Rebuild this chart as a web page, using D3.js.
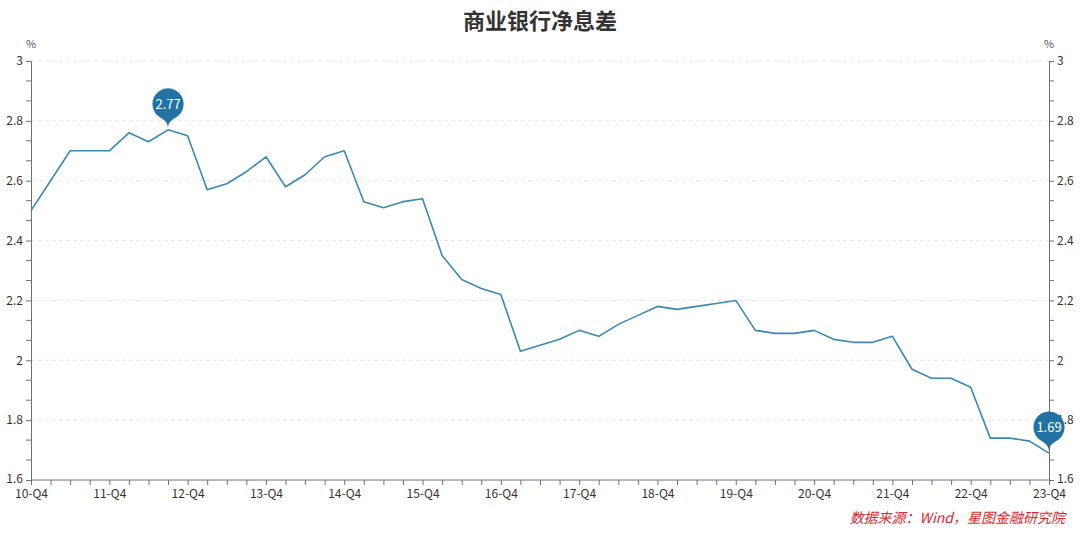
<!DOCTYPE html>
<html>
<head>
<meta charset="utf-8">
<script src="https://cdn.jsdelivr.net/npm/d3@7/dist/d3.min.js"></script>
<style>
  html, body { margin: 0; padding: 0; background: #fff; }
  svg { display: block; font-family: "Noto Sans CJK SC", "Noto Sans", sans-serif; }
</style>
</head>
<body>
<svg id="chart" width="1080" height="536"></svg>
<script>
const title = "商业银行净息差";
const source = "数据来源：Wind，星图金融研究院";
const unit = "%";
const categories = [
  "10-Q4",
  "11-Q1","11-Q2","11-Q3","11-Q4",
  "12-Q1","12-Q2","12-Q3","12-Q4",
  "13-Q1","13-Q2","13-Q3","13-Q4",
  "14-Q1","14-Q2","14-Q3","14-Q4",
  "15-Q1","15-Q2","15-Q3","15-Q4",
  "16-Q1","16-Q2","16-Q3","16-Q4",
  "17-Q1","17-Q2","17-Q3","17-Q4",
  "18-Q1","18-Q2","18-Q3","18-Q4",
  "19-Q1","19-Q2","19-Q3","19-Q4",
  "20-Q1","20-Q2","20-Q3","20-Q4",
  "21-Q1","21-Q2","21-Q3","21-Q4",
  "22-Q1","22-Q2","22-Q3","22-Q4",
  "23-Q1","23-Q2","23-Q3","23-Q4"
];
const nim = [
  2.50,
  2.60, 2.70, 2.70, 2.70,
  2.76, 2.73, 2.77, 2.75,
  2.57, 2.59, 2.63, 2.68,
  2.58, 2.62, 2.68, 2.70,
  2.53, 2.51, 2.53, 2.54,
  2.35, 2.27, 2.24, 2.22,
  2.03, 2.05, 2.07, 2.10,
  2.08, 2.12, 2.15, 2.18,
  2.17, 2.18, 2.19, 2.20,
  2.10, 2.09, 2.09, 2.10,
  2.07, 2.06, 2.06, 2.08,
  1.97, 1.94, 1.94, 1.91,
  1.74, 1.74, 1.73, 1.69
];
const yMajorTicks = [1.6, 1.8, 2.0, 2.2, 2.4, 2.6, 2.8, 3.0];
const yTickLabels = ["1.6", "1.8", "2", "2.2", "2.4", "2.6", "2.8", "3"];
const xTickLabels = ["10-Q4","11-Q4","12-Q4","13-Q4","14-Q4","15-Q4","16-Q4","17-Q4","18-Q4","19-Q4","20-Q4","21-Q4","22-Q4","23-Q4"];
const markLabels = ["2.77", "1.69"];

const svg = d3.select("#chart");
const L = 31, R = 1049, T = 61, B = 480;
const axisColor = "#6e7079";
const textColor = "#333";
const lineColor = "#3a88b4";
const pinColor = "#2273a3";

const x = d3.scalePoint().domain(categories).range([L, R]);
const y = d3.scaleLinear().domain([1.6, 3.0]).range([B, T]);

// minor ticks (3 per 0.2 interval)
const minorTicks = [];
for (let i = 0; i < yMajorTicks.length - 1; i++) {
  const a = yMajorTicks[i], b = yMajorTicks[i + 1];
  minorTicks.push(a + (b - a) / 3, a + 2 * (b - a) / 3);
}

// grid
svg.append("g").selectAll("line").data(yMajorTicks.filter(v => v > 1.6))
  .join("line")
  .attr("x1", L).attr("x2", R)
  .attr("y1", d => y(d)).attr("y2", d => y(d))
  .attr("stroke", "#e6e6e6").attr("stroke-width", 1)
  .attr("stroke-dasharray", "4,3");

// title
svg.append("text").attr("x", 540).attr("y", 29).attr("text-anchor", "middle")
  .attr("font-size", 22).attr("font-weight", "bold").attr("fill", "#333").text(title);

// y axes
const fmt = d => yTickLabels[yMajorTicks.indexOf(d)];
const leftAxis = d3.axisLeft(y).tickValues(yMajorTicks).tickFormat(fmt).tickSize(5).tickPadding(3);
const rightAxis = d3.axisRight(y).tickValues(yMajorTicks).tickFormat(fmt).tickSize(5).tickPadding(3);

function styleAxis(g) {
  g.select(".domain").attr("stroke", axisColor);
  g.selectAll(".tick line").attr("stroke", axisColor);
  g.selectAll(".tick text").attr("fill", textColor).attr("font-size", 12)
    .attr("font-family", "'Noto Sans CJK SC', 'Noto Sans', sans-serif");
}

const gl = svg.append("g").attr("transform", `translate(${L},0)`).call(leftAxis).call(styleAxis);
gl.selectAll(".tick text").attr("dy", d => d === 1.6 ? "0.2em" : "0.32em");
gl.append("g").selectAll("line").data(minorTicks).join("line")
  .attr("x1", -5).attr("x2", 0).attr("y1", d => y(d)).attr("y2", d => y(d)).attr("stroke", axisColor);
const gr = svg.append("g").attr("transform", `translate(${R},0)`).call(rightAxis).call(styleAxis);
gr.selectAll(".tick text").attr("dy", d => d === 1.6 ? "0.2em" : "0.32em");
gr.append("g").selectAll("line").data(minorTicks).join("line")
  .attr("x1", 0).attr("x2", 5).attr("y1", d => y(d)).attr("y2", d => y(d)).attr("stroke", axisColor);

svg.append("text").attr("x", L).attr("y", 48).attr("text-anchor", "middle")
  .attr("font-size", 11).attr("fill", "#555").text(unit);
svg.append("text").attr("x", R).attr("y", 48).attr("text-anchor", "middle")
  .attr("font-size", 11).attr("fill", "#555").text(unit);

// x axis
const xAxis = d3.axisBottom(x).tickSize(5).tickPadding(4)
  .tickFormat(d => xTickLabels.includes(d) ? d : "");
svg.append("g").attr("transform", `translate(0,${B})`).call(xAxis).call(styleAxis)
  .call(g => g.select(".domain").attr("d", `M${L},0H${R}`));

// line
svg.append("path").datum(nim)
  .attr("fill", "none").attr("stroke", lineColor).attr("stroke-width", 1.6)
  .attr("stroke-linejoin", "round")
  .attr("d", d3.line().x((d, i) => x(categories[i])).y(d => y(d)));

// pin markers (max & min)
function pinPath(w0, h0) {
  const w = w0 / 5 * 3;
  const h = Math.max(w, h0);
  const r = w / 2;
  const dy = r * r / (h - r);
  const cy = -h + r + dy;
  const angle = Math.asin(dy / r);
  const dx = Math.cos(angle) * r;
  const tanX = Math.sin(angle), tanY = Math.cos(angle);
  const cpLen = r * 0.6, cpLen2 = r * 0.7;
  const p = d3.path();
  p.moveTo(-dx, cy + dy);
  p.arc(0, cy, r, Math.PI - angle, Math.PI * 2 + angle);
  p.bezierCurveTo(dx - tanX * cpLen, cy + dy + tanY * cpLen, 0, -cpLen2, 0, 0);
  p.bezierCurveTo(0, -cpLen2, -dx + tanX * cpLen, cy + dy + tanY * cpLen, -dx, cy + dy);
  p.closePath();
  return { d: p.toString(), cy: cy };
}
const maxV = d3.max(nim), minV = d3.min(nim);
const marks = [
  { i: nim.indexOf(maxV), v: maxV, label: markLabels[0] },
  { i: nim.lastIndexOf(minV), v: minV, label: markLabels[1] }
];
const pin = pinPath(52, 48);
const mg = svg.append("g").selectAll("g").data(marks).join("g")
  .attr("transform", d => `translate(${x(categories[d.i])},${y(d.v) - 1})`);
mg.append("path").attr("d", pin.d).attr("fill", pinColor);
mg.append("text").attr("x", 0).attr("y", pin.cy).attr("dy", "0.36em")
  .attr("text-anchor", "middle").attr("font-size", 13).attr("fill", "#fff").text(d => d.label);

// source
svg.append("text").attr("x", 1065).attr("y", 523).attr("text-anchor", "end")
  .attr("font-size", 14).attr("font-style", "italic").attr("fill", "#e0262e").text(source);
</script>
</body>
</html>
